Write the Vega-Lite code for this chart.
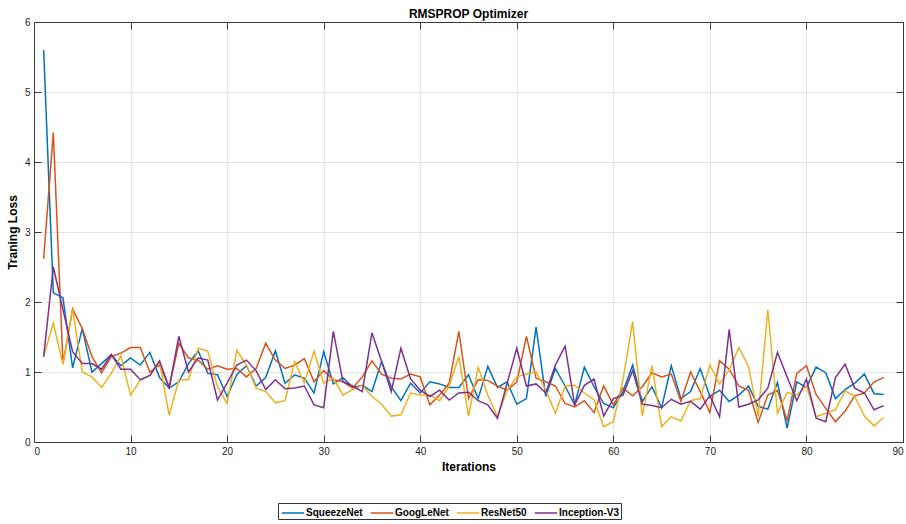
{
  "$schema": "https://vega.github.io/schema/vega-lite/v6.json",
  "autosize": {"type": "none"},
  "padding": {"left": 34, "top": 22, "right": 3, "bottom": 82},
  "width": 869,
  "height": 420,
  "background": "white",
  "title": {"text": "RMSPROP Optimizer", "font": "Liberation Sans", "fontSize": 12, "fontWeight": "bold", "color": "black", "offset": -4},
  "config": {
    "font": "Liberation Sans",
    "view": {"stroke": "#3a3a3a", "strokeWidth": 1},
    "axis": {"labelFont": "Liberation Sans", "labelFontSize": 10, "labelColor": "#222", "titleFont": "Liberation Sans", "titleFontSize": 12, "titleFontWeight": "bold", "titleColor": "black", "gridColor": "#e3e3e3", "gridWidth": 1, "domainColor": "#3a3a3a", "tickColor": "#3a3a3a", "tickSize": -7, "labelPadding": 11}
  },
  "data": {"values": [
    {"i":1,"SqueezeNet":5.6,"GoogLeNet":2.62,"ResNet50":1.22,"Inception-V3":1.22},
    {"i":2,"SqueezeNet":2.13,"GoogLeNet":4.42,"ResNet50":1.7,"Inception-V3":2.5},
    {"i":3,"SqueezeNet":2.06,"GoogLeNet":1.12,"ResNet50":1.11,"Inception-V3":1.89},
    {"i":4,"SqueezeNet":1.06,"GoogLeNet":1.9,"ResNet50":1.9,"Inception-V3":1.29},
    {"i":5,"SqueezeNet":1.62,"GoogLeNet":1.62,"ResNet50":1.0,"Inception-V3":1.12},
    {"i":6,"SqueezeNet":1.0,"GoogLeNet":1.22,"ResNet50":0.93,"Inception-V3":1.12},
    {"i":7,"SqueezeNet":1.12,"GoogLeNet":0.99,"ResNet50":0.78,"Inception-V3":1.04},
    {"i":8,"SqueezeNet":1.25,"GoogLeNet":1.22,"ResNet50":0.98,"Inception-V3":1.25},
    {"i":9,"SqueezeNet":1.09,"GoogLeNet":1.27,"ResNet50":1.23,"Inception-V3":1.04},
    {"i":10,"SqueezeNet":1.2,"GoogLeNet":1.35,"ResNet50":0.67,"Inception-V3":1.04},
    {"i":11,"SqueezeNet":1.1,"GoogLeNet":1.35,"ResNet50":0.88,"Inception-V3":0.89},
    {"i":12,"SqueezeNet":1.28,"GoogLeNet":1.0,"ResNet50":0.95,"Inception-V3":0.95},
    {"i":13,"SqueezeNet":0.92,"GoogLeNet":1.1,"ResNet50":1.15,"Inception-V3":1.16},
    {"i":14,"SqueezeNet":0.77,"GoogLeNet":0.78,"ResNet50":0.38,"Inception-V3":0.78},
    {"i":15,"SqueezeNet":0.86,"GoogLeNet":1.41,"ResNet50":0.89,"Inception-V3":1.51},
    {"i":16,"SqueezeNet":1.12,"GoogLeNet":1.2,"ResNet50":0.89,"Inception-V3":1.0},
    {"i":17,"SqueezeNet":1.3,"GoogLeNet":1.17,"ResNet50":1.34,"Inception-V3":1.2},
    {"i":18,"SqueezeNet":0.98,"GoogLeNet":1.04,"ResNet50":1.3,"Inception-V3":1.17},
    {"i":19,"SqueezeNet":0.96,"GoogLeNet":1.09,"ResNet50":0.79,"Inception-V3":0.6},
    {"i":20,"SqueezeNet":0.65,"GoogLeNet":1.04,"ResNet50":0.55,"Inception-V3":0.84},
    {"i":21,"SqueezeNet":0.96,"GoogLeNet":1.05,"ResNet50":1.31,"Inception-V3":1.1},
    {"i":22,"SqueezeNet":1.09,"GoogLeNet":0.93,"ResNet50":1.1,"Inception-V3":1.17},
    {"i":23,"SqueezeNet":0.8,"GoogLeNet":1.05,"ResNet50":0.77,"Inception-V3":1.02},
    {"i":24,"SqueezeNet":0.92,"GoogLeNet":1.41,"ResNet50":0.72,"Inception-V3":0.75},
    {"i":25,"SqueezeNet":1.3,"GoogLeNet":1.17,"ResNet50":0.56,"Inception-V3":0.89},
    {"i":26,"SqueezeNet":0.84,"GoogLeNet":1.05,"ResNet50":0.59,"Inception-V3":0.76},
    {"i":27,"SqueezeNet":0.96,"GoogLeNet":1.1,"ResNet50":1.15,"Inception-V3":0.77},
    {"i":28,"SqueezeNet":0.91,"GoogLeNet":1.19,"ResNet50":0.84,"Inception-V3":0.8},
    {"i":29,"SqueezeNet":0.7,"GoogLeNet":0.86,"ResNet50":1.3,"Inception-V3":0.53},
    {"i":30,"SqueezeNet":1.29,"GoogLeNet":1.02,"ResNet50":0.84,"Inception-V3":0.49},
    {"i":31,"SqueezeNet":0.83,"GoogLeNet":0.89,"ResNet50":0.91,"Inception-V3":1.58},
    {"i":32,"SqueezeNet":0.92,"GoogLeNet":0.86,"ResNet50":0.67,"Inception-V3":0.86},
    {"i":33,"SqueezeNet":0.78,"GoogLeNet":0.77,"ResNet50":0.75,"Inception-V3":0.8},
    {"i":34,"SqueezeNet":0.81,"GoogLeNet":0.93,"ResNet50":0.81,"Inception-V3":0.72},
    {"i":35,"SqueezeNet":0.72,"GoogLeNet":1.16,"ResNet50":0.65,"Inception-V3":1.56},
    {"i":36,"SqueezeNet":1.15,"GoogLeNet":0.97,"ResNet50":0.54,"Inception-V3":1.15},
    {"i":37,"SqueezeNet":0.79,"GoogLeNet":0.91,"ResNet50":0.37,"Inception-V3":0.72},
    {"i":38,"SqueezeNet":0.59,"GoogLeNet":0.9,"ResNet50":0.39,"Inception-V3":1.34},
    {"i":39,"SqueezeNet":0.84,"GoogLeNet":0.97,"ResNet50":0.7,"Inception-V3":0.9},
    {"i":40,"SqueezeNet":0.7,"GoogLeNet":0.93,"ResNet50":0.67,"Inception-V3":0.74},
    {"i":41,"SqueezeNet":0.86,"GoogLeNet":0.53,"ResNet50":0.67,"Inception-V3":0.65},
    {"i":42,"SqueezeNet":0.83,"GoogLeNet":0.67,"ResNet50":0.59,"Inception-V3":0.74},
    {"i":43,"SqueezeNet":0.78,"GoogLeNet":0.84,"ResNet50":0.8,"Inception-V3":0.6},
    {"i":44,"SqueezeNet":0.78,"GoogLeNet":1.58,"ResNet50":1.22,"Inception-V3":0.7},
    {"i":45,"SqueezeNet":0.96,"GoogLeNet":0.62,"ResNet50":0.37,"Inception-V3":0.71},
    {"i":46,"SqueezeNet":0.62,"GoogLeNet":0.89,"ResNet50":1.07,"Inception-V3":0.59},
    {"i":47,"SqueezeNet":1.08,"GoogLeNet":0.88,"ResNet50":0.67,"Inception-V3":0.53},
    {"i":48,"SqueezeNet":0.78,"GoogLeNet":0.8,"ResNet50":0.36,"Inception-V3":0.34},
    {"i":49,"SqueezeNet":0.86,"GoogLeNet":0.74,"ResNet50":0.74,"Inception-V3":0.84},
    {"i":50,"SqueezeNet":0.54,"GoogLeNet":0.86,"ResNet50":0.93,"Inception-V3":1.34},
    {"i":51,"SqueezeNet":0.62,"GoogLeNet":1.51,"ResNet50":0.97,"Inception-V3":0.8},
    {"i":52,"SqueezeNet":1.64,"GoogLeNet":0.91,"ResNet50":1.0,"Inception-V3":0.83},
    {"i":53,"SqueezeNet":0.65,"GoogLeNet":0.86,"ResNet50":0.74,"Inception-V3":0.7},
    {"i":54,"SqueezeNet":1.05,"GoogLeNet":0.8,"ResNet50":0.41,"Inception-V3":1.1},
    {"i":55,"SqueezeNet":0.8,"GoogLeNet":0.55,"ResNet50":0.8,"Inception-V3":1.37},
    {"i":56,"SqueezeNet":0.53,"GoogLeNet":0.5,"ResNet50":0.81,"Inception-V3":0.53},
    {"i":57,"SqueezeNet":1.07,"GoogLeNet":0.59,"ResNet50":0.7,"Inception-V3":0.81},
    {"i":58,"SqueezeNet":0.79,"GoogLeNet":0.42,"ResNet50":0.6,"Inception-V3":0.9},
    {"i":59,"SqueezeNet":0.55,"GoogLeNet":0.8,"ResNet50":0.22,"Inception-V3":0.37},
    {"i":60,"SqueezeNet":0.49,"GoogLeNet":0.53,"ResNet50":0.29,"Inception-V3":0.62},
    {"i":61,"SqueezeNet":0.72,"GoogLeNet":0.77,"ResNet50":0.89,"Inception-V3":0.67},
    {"i":62,"SqueezeNet":1.1,"GoogLeNet":0.66,"ResNet50":1.72,"Inception-V3":1.02},
    {"i":63,"SqueezeNet":0.58,"GoogLeNet":0.79,"ResNet50":0.37,"Inception-V3":0.54},
    {"i":64,"SqueezeNet":0.79,"GoogLeNet":0.99,"ResNet50":1.09,"Inception-V3":0.52},
    {"i":65,"SqueezeNet":0.49,"GoogLeNet":0.93,"ResNet50":0.22,"Inception-V3":0.49},
    {"i":66,"SqueezeNet":1.09,"GoogLeNet":0.97,"ResNet50":0.36,"Inception-V3":0.61},
    {"i":67,"SqueezeNet":0.62,"GoogLeNet":0.58,"ResNet50":0.3,"Inception-V3":0.54},
    {"i":68,"SqueezeNet":0.72,"GoogLeNet":1.0,"ResNet50":0.59,"Inception-V3":0.58},
    {"i":69,"SqueezeNet":1.05,"GoogLeNet":0.72,"ResNet50":0.62,"Inception-V3":0.47},
    {"i":70,"SqueezeNet":0.65,"GoogLeNet":0.42,"ResNet50":1.1,"Inception-V3":0.66},
    {"i":71,"SqueezeNet":0.74,"GoogLeNet":1.16,"ResNet50":0.83,"Inception-V3":0.36},
    {"i":72,"SqueezeNet":0.58,"GoogLeNet":1.04,"ResNet50":1.03,"Inception-V3":1.61},
    {"i":73,"SqueezeNet":0.67,"GoogLeNet":0.8,"ResNet50":1.35,"Inception-V3":0.5},
    {"i":74,"SqueezeNet":0.8,"GoogLeNet":0.74,"ResNet50":1.08,"Inception-V3":0.54},
    {"i":75,"SqueezeNet":0.51,"GoogLeNet":0.28,"ResNet50":0.37,"Inception-V3":0.6},
    {"i":76,"SqueezeNet":0.47,"GoogLeNet":0.67,"ResNet50":1.89,"Inception-V3":0.77},
    {"i":77,"SqueezeNet":0.85,"GoogLeNet":0.74,"ResNet50":0.41,"Inception-V3":1.28},
    {"i":78,"SqueezeNet":0.2,"GoogLeNet":0.31,"ResNet50":0.71,"Inception-V3":0.93},
    {"i":79,"SqueezeNet":0.86,"GoogLeNet":0.98,"ResNet50":0.67,"Inception-V3":0.59},
    {"i":80,"SqueezeNet":0.78,"GoogLeNet":1.09,"ResNet50":0.8,"Inception-V3":0.9},
    {"i":81,"SqueezeNet":1.07,"GoogLeNet":0.68,"ResNet50":0.36,"Inception-V3":0.34},
    {"i":82,"SqueezeNet":0.99,"GoogLeNet":0.48,"ResNet50":0.41,"Inception-V3":0.29},
    {"i":83,"SqueezeNet":0.62,"GoogLeNet":0.29,"ResNet50":0.46,"Inception-V3":0.92},
    {"i":84,"SqueezeNet":0.75,"GoogLeNet":0.44,"ResNet50":0.73,"Inception-V3":1.11},
    {"i":85,"SqueezeNet":0.84,"GoogLeNet":0.66,"ResNet50":0.65,"Inception-V3":0.77},
    {"i":86,"SqueezeNet":0.97,"GoogLeNet":0.7,"ResNet50":0.37,"Inception-V3":0.7},
    {"i":87,"SqueezeNet":0.69,"GoogLeNet":0.86,"ResNet50":0.23,"Inception-V3":0.46},
    {"i":88,"SqueezeNet":0.68,"GoogLeNet":0.92,"ResNet50":0.35,"Inception-V3":0.52}
  ]},
  "transform": [
    {"fold": ["SqueezeNet", "GoogLeNet", "ResNet50", "Inception-V3"], "as": ["model", "loss"]}
  ],
  "layer": [
    {
      "mark": {"type": "line", "strokeWidth": 1.5, "clip": true},
      "encoding": {
        "x": {"field": "i", "type": "quantitative", "title": "Iterations",
              "scale": {"domain": [0, 90], "nice": false, "zero": false},
              "axis": {"orient": "bottom", "values": [0,10,20,30,40,50,60,70,80,90], "grid": true, "titlePadding": 5}},
        "y": {"field": "loss", "type": "quantitative", "title": "Traning Loss",
              "scale": {"domain": [0, 6], "nice": false},
              "axis": {"orient": "left", "values": [0,1,2,3,4,5,6], "grid": true, "titlePadding": 5}},
        "color": {"field": "model", "type": "nominal",
                  "scale": {"domain": ["SqueezeNet", "GoogLeNet", "ResNet50", "Inception-V3"], "range": ["#0072BD", "#D95319", "#EDB120", "#7E2F8E"]},
                  "legend": {"title": null, "orient": "none", "direction": "horizontal", "legendX": 244, "legendY": 481,
                             "symbolType": "M-1.4,0H1.4", "symbolSize": 256, "symbolStrokeWidth": 1.5, "symbolOffset": 5,
                             "labelFont": "Liberation Sans", "labelFontSize": 10, "labelFontWeight": "bold", "labelColor": "black",
                             "columnPadding": 4, "labelOffset": 4, "padding": 1, "strokeColor": "#333", "fillColor": "white"}}
      }
    },
    {
      "mark": {"type": "line", "opacity": 0},
      "encoding": {
        "x": {"field": "i", "type": "quantitative", "scale": {"domain": [0, 90], "nice": false, "zero": false},
              "axis": {"orient": "top", "values": [0,10,20,30,40,50,60,70,80,90], "labels": false, "title": null, "grid": false}},
        "y": {"field": "loss", "type": "quantitative", "scale": {"domain": [0, 6], "nice": false},
              "axis": {"orient": "right", "values": [0,1,2,3,4,5,6], "labels": false, "title": null, "grid": false}},
        "detail": {"field": "model"}
      }
    }
  ],
  "resolve": {"axis": {"x": "independent", "y": "independent"}}
}
